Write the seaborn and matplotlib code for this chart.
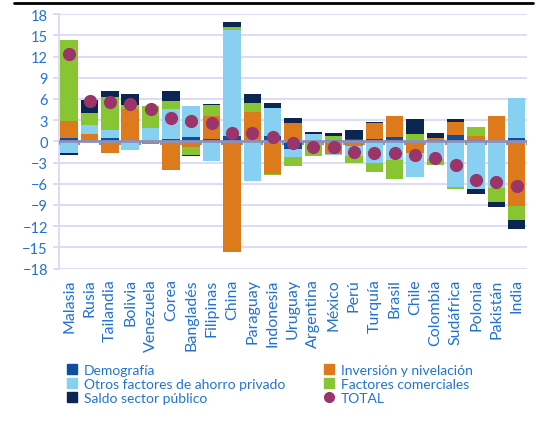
import numpy as np
import pandas as pd
import matplotlib.pyplot as plt
import seaborn as sns
from matplotlib.lines import Line2D

# Data
paises = ["Malasia", "Rusia", "Tailandia", "Bolivia", "Venezuela", "Corea", "Bangladés",
          "Filipinas", "China", "Paraguay", "Indonesia", "Uruguay", "Argentina", "México",
          "Perú", "Turquía", "Brasil", "Chile", "Colombia", "Sudáfrica", "Polonia",
          "Pakistán", "India"]
demografia = [0.5, -0.15, 0.5, 0.0, 0.0, 0.33, 0.6, 0.3, 0.75, 0.0, 0.75, -1.1,
              -0.1, 0.25, 0.3, 0.4, 0.6, -0.1, 0.25, 0.95, 0.15, 0.0, 0.45]
inversion = [2.4, 1.0, -1.65, 4.6, -0.4, -4.05, -0.75, 3.3, -15.65, 4.15, -4.6, 2.6,
             0.0, -1.75, -0.65, 2.2, 3.0, -1.6, 0.22, 1.75, 0.6, 3.6, -9.1]
otros = [-1.65, 1.3, 1.1, -1.2, 1.9, 4.27, 4.4, -2.8, 15.0, -5.6, 3.95, -1.1,
         1.0, -0.15, -1.35, -3.0, -2.65, -3.4, -2.5, -6.4, -6.75, -6.6, 5.65]
comerciales = [11.4, 1.7, 4.7, 0.55, 3.1, 1.1, -1.15, 1.55, 0.45, 1.25, -0.15, -1.3,
               -1.9, 0.55, -1.0, -1.4, -2.65, 1.0, -0.8, -0.3, 1.25, -1.95, -2.0]
saldo = [-0.25, 1.85, 0.8, 1.55, 0.0, 1.4, -0.1, 0.15, 0.7, 1.3, 0.7, 0.75,
         0.3, 0.4, 1.3, 0.15, 0.0, 2.1, 0.7, 0.4, -0.7, -0.7, -1.3]
total = [12.4, 5.7, 5.5, 5.3, 4.6, 3.3, 2.9, 2.6, 1.2, 1.2, 0.6, -0.25,
         -0.8, -0.75, -1.5, -1.7, -1.7, -1.9, -2.3, -3.4, -5.4, -5.75, -6.3]

azul_txt = "#2272d2"
lavanda = "#d6d6f5"

sns.set_theme(style="white")
plt.rcParams["font.family"] = ["Lato", "DejaVu Sans"]

fig = plt.figure(figsize=(5.39, 4.27), dpi=100)
ax = fig.add_axes([0.1095, 0.3686, 0.868, 0.596])

componentes = [
    ("Demografía", demografia, "#0b4fa3"),
    ("Inversión y nivelación", inversion, "#dc7a1c"),
    ("Otros factores de ahorro privado", otros, "#88d0f2"),
    ("Factores comerciales", comerciales, "#88c532"),
    ("Saldo sector público", saldo, "#0b2650"),
]

# stacked bars, positives and negatives stacked separately
pos = np.zeros(len(paises))
neg = np.zeros(len(paises))
for nombre, vals, color in componentes:
    v = np.array(vals, dtype=float)
    base = np.where(v >= 0, pos, neg)
    sns.barplot(x=paises, y=v, bottom=base, color=color, saturation=1, width=0.86,
                errorbar=None, linewidth=0, zorder=2, ax=ax)
    pos = pos + np.clip(v, 0, None)
    neg = neg + np.clip(v, None, 0)

# zero line with tick marks between countries
ax.axhline(0, color="#8e90b8", lw=2, zorder=3)
ax.vlines(np.arange(len(paises) + 1) - 0.5, 0, -0.55, color="#8e90b8", lw=1.5, zorder=3)

sns.stripplot(x=paises, y=total, jitter=False, color="#9b3468", size=9.5,
              linewidth=0, zorder=5, ax=ax)

ax.set_ylim(-18, 18)
ax.set_yticks(np.arange(-18, 19, 3))
ax.set_xlim(-0.5, len(paises) - 0.5)
ax.set_xlabel("")
ax.set_ylabel("")
ax.grid(axis="y", color=lavanda, lw=1.2)
ax.set_axisbelow(True)
for s in ["top", "right", "bottom"]:
    ax.spines[s].set_visible(False)
ax.spines["left"].set_color(lavanda)
ax.spines["left"].set_linewidth(1.2)
ax.tick_params(axis="y", left=True, length=4, width=1.2, color=lavanda,
               labelcolor=azul_txt, labelsize=10.5, pad=4)
ax.tick_params(axis="x", bottom=False, length=0, labelcolor=azul_txt, labelsize=11.5,
               labelrotation=90, pad=7)

# top rule
fig.add_artist(Line2D([0.026, 0.989], [0.991, 0.991], transform=fig.transFigure,
                      color="black", lw=2))

# legend
handles = []
labels = []
orden = [0, 2, 4, 1, 3]
for i in orden:
    nombre, _, color = componentes[i]
    handles.append(Line2D([], [], marker="s", ls="", color=color, markersize=7))
    labels.append(nombre)
handles.append(Line2D([], [], marker="o", ls="", color="#9b3468", markersize=7))
labels.append("TOTAL")
fig.legend(handles, labels, loc="upper left", bbox_to_anchor=(0.1225, 0.145), ncol=2,
           frameon=False, fontsize=10, labelcolor=azul_txt, handlelength=0.8,
           handletextpad=0.5, labelspacing=0.15, columnspacing=2.7, borderpad=0,
           borderaxespad=0)

plt.savefig("out.png", dpi=100)
plt.close()
